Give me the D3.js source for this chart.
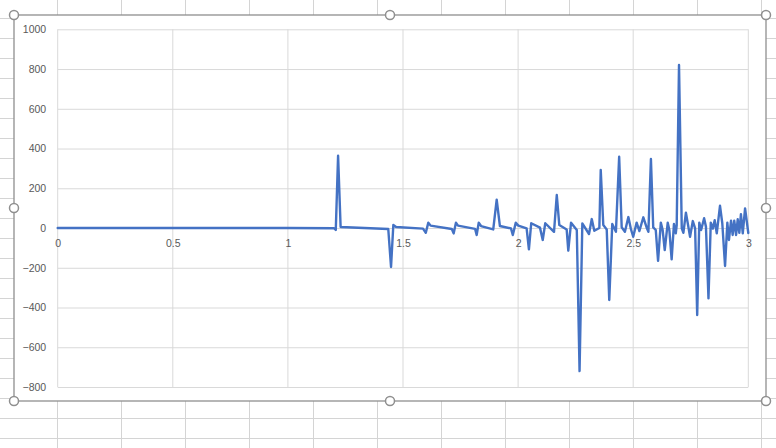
<!DOCTYPE html>
<html>
<head>
<meta charset="utf-8">
<script src="https://cdn.jsdelivr.net/npm/d3@7"></script>
<style>
  html, body { margin: 0; padding: 0; background: #ffffff; }
  svg { display: block; }
  .tick text { font-family: "Liberation Sans", Arial, sans-serif; font-size: 10.5px; fill: #595959; }
</style>
</head>
<body>
<svg id="chart" width="776" height="448"></svg>
<script>
// ---- data ----
const xValues = [
  0, 0.5, 1.0, 1.2, 1.208, 1.218, 1.229, 1.436, 1.448, 1.458, 1.47,
  1.587, 1.599, 1.610, 1.620, 1.712, 1.720, 1.730, 1.739, 1.813, 1.820,
  1.829, 1.839, 1.892, 1.907, 1.921, 1.969, 1.977, 1.990, 2.001, 2.037,
  2.047, 2.057, 2.095, 2.107, 2.118, 2.156, 2.168, 2.179, 2.211, 2.218,
  2.230, 2.255, 2.267, 2.279, 2.308, 2.320, 2.331, 2.353, 2.359, 2.370,
  2.385, 2.396, 2.409, 2.425, 2.439, 2.450, 2.464, 2.479, 2.490, 2.500,
  2.515, 2.527, 2.544, 2.560, 2.566, 2.577, 2.587, 2.598, 2.608, 2.620,
  2.628, 2.637, 2.650, 2.657, 2.667, 2.677, 2.685, 2.689, 2.699, 2.711,
  2.718, 2.729, 2.737, 2.747, 2.759, 2.769, 2.778, 2.787, 2.795, 2.808,
  2.816, 2.827, 2.837, 2.846, 2.854, 2.863, 2.877, 2.887, 2.899, 2.909,
  2.916, 2.925, 2.932, 2.939, 2.947, 2.954, 2.961, 2.968, 2.976, 2.986,
  3.0
];
const yValues = [
  0, 0, 0, -1, -10, 364, 5, -5, -196, 15, 5,
  -3, -24, 27, 12, -5, -27, 27, 12, -4, -35,
  27, 10, -7, 143, 10, -2, -35, 27, 12, -2,
  -107, 24, 2, -60, 24, -19, 166, 15, -7, -114,
  27, -10, -720, 23, -30, 45, -14, 0, 292, 15,
  -7, -362, 20, -19, 359, 4, -19, 55, -5, -44,
  27, -15, 54, -3, -19, 347, 3, -10, -165, 27,
  -10, -111, 27, -10, -158, 20, -27, 15, 820, -2,
  -24, 77, 24, -44, 35, -2, -438, 27, -10, 49,
  7, -354, 27, -3, 39, -27, 112, 24, -191, 27,
  -60, 37, -35, 37, -35, 44, -24, 70, -27, 99,
  -25
];
const yTicks = [-800, -600, -400, -200, 0, 200, 400, 600, 800, 1000];
const xTicks = [0, 0.5, 1, 1.5, 2, 2.5, 3];
const xTickLabels = ["0", "0.5", "1", "1.5", "2", "2.5", "3"];

// ---- layout ----
const W = 776, H = 448;
const frame = { left: 14, top: 15, right: 766, bottom: 401 };
const plot = { left: 57.7, top: 29.3, right: 748.3, bottom: 387 };

const svg = d3.select("#chart");

// spreadsheet background grid
const sheet = svg.append("g");
const colXs = d3.range(-6.3, W + 1, 64);
const rowYs = d3.range(18, H + 1, 20);
sheet.selectAll("line.col").data(colXs).join("line")
  .attr("x1", d => d).attr("x2", d => d).attr("y1", 0).attr("y2", H)
  .attr("stroke", "#d4d4d4").attr("stroke-width", 1).attr("shape-rendering", "crispEdges");
sheet.selectAll("line.row").data(rowYs).join("line")
  .attr("x1", 0).attr("x2", W).attr("y1", d => d).attr("y2", d => d)
  .attr("stroke", "#d4d4d4").attr("stroke-width", 1).attr("shape-rendering", "crispEdges");

// chart area
svg.append("rect")
  .attr("x", frame.left).attr("y", frame.top)
  .attr("width", frame.right - frame.left).attr("height", frame.bottom - frame.top)
  .attr("fill", "#ffffff").attr("stroke", "#8f8f8f").attr("stroke-width", 1.3);

const x = d3.scaleLinear().domain([0, 3]).range([plot.left, plot.right]);
const y = d3.scaleLinear().domain([-800, 1000]).range([plot.bottom, plot.top]);

// horizontal gridlines + y labels
const yAxis = d3.axisLeft(y).tickValues(yTicks)
  .tickSize(-(plot.right - plot.left)).tickPadding(11.5).tickFormat(d3.format("d"));
const gy = svg.append("g").attr("transform", `translate(${plot.left},0)`).call(yAxis);
gy.select(".domain").remove();
gy.selectAll(".tick line").attr("stroke", "#d9d9d9").attr("stroke-width", 1);

// vertical gridlines
svg.append("g").selectAll("line").data(xTicks).join("line")
  .attr("x1", d => x(d)).attr("x2", d => x(d))
  .attr("y1", plot.top).attr("y2", plot.bottom)
  .attr("stroke", "#d9d9d9").attr("stroke-width", 1);

// x axis labels at y = 0
const xAxis = d3.axisBottom(x).tickValues(xTicks).tickSize(0).tickPadding(12)
  .tickFormat((d, i) => xTickLabels[i]);
const gx = svg.append("g").attr("transform", `translate(0,${y(0)})`).call(xAxis);
gx.select(".domain").attr("stroke", "#d9d9d9");

// data line
const pts = xValues.map((v, i) => [v, yValues[i]]);
const line = d3.line().x(d => x(d[0])).y(d => y(d[1])).curve(d3.curveLinear);
svg.append("path").datum(pts)
  .attr("d", line)
  .attr("fill", "none")
  .attr("stroke", "#4472c4")
  .attr("stroke-width", 2.4)
  .attr("stroke-linejoin", "round")
  .attr("stroke-linecap", "round");

// selection handles
const midX = (frame.left + frame.right) / 2, midY = (frame.top + frame.bottom) / 2;
const handles = [
  [frame.left, frame.top], [midX, frame.top], [frame.right, frame.top],
  [frame.left, midY], [frame.right, midY],
  [frame.left, frame.bottom], [midX, frame.bottom], [frame.right, frame.bottom]
];
svg.append("g").selectAll("circle").data(handles).join("circle")
  .attr("cx", d => d[0]).attr("cy", d => d[1]).attr("r", 4.5)
  .attr("fill", "#ffffff").attr("stroke", "#8f8f8f").attr("stroke-width", 1.5);
</script>
</body>
</html>
